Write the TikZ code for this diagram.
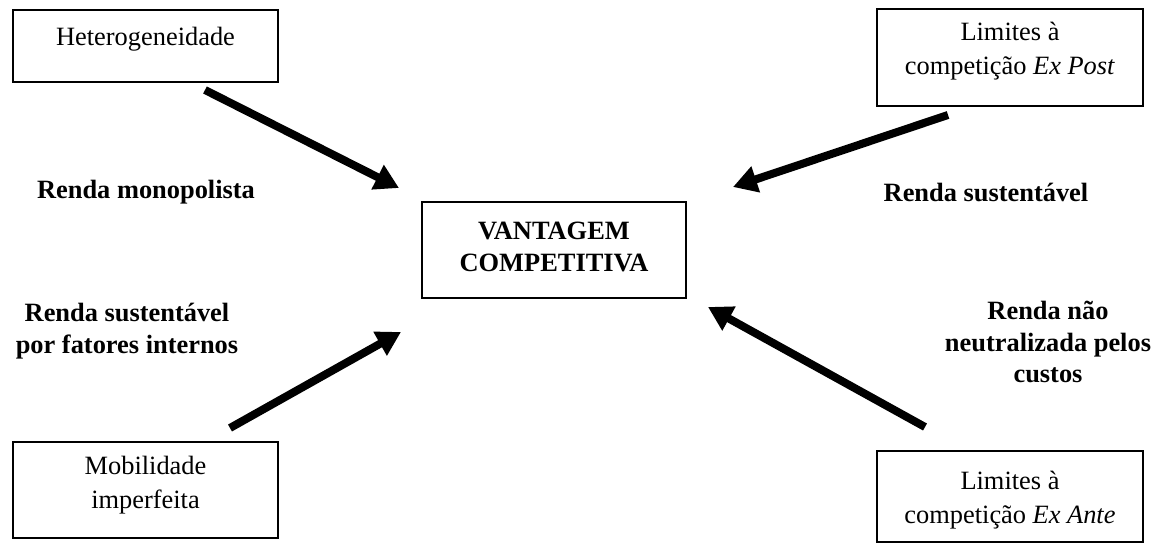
\documentclass[tikz,border=0pt]{standalone}
\usepackage{fontspec}
\setmainfont{Liberation Serif}
\usetikzlibrary{arrows.meta}
\begin{document}
\begin{tikzpicture}[x=0.5pt,y=-0.5pt,
  frame/.style={draw=black,line width=1pt,rectangle,inner sep=0pt},
  txt/.style={align=center,inner sep=0pt,font=\fontsize{13.2pt}{17pt}\selectfont},
  btxt/.style={txt,font=\fontsize{13.2pt}{15.7pt}\selectfont\bfseries},
  bigarrow/.style={line width=4pt,-{Triangle[length=12pt,width=13pt]}}]
\useasboundingbox (0,0) rectangle (1157,544);

% frames
\node[frame,minimum width=132.5pt,minimum height=36pt] (het) at (145.5,46) {};
\node[frame,minimum width=133pt,minimum height=48.5pt] (post) at (1010,57.5) {};
\node[frame,minimum width=132pt,minimum height=48pt] (vant) at (554,250) {};
\node[frame,minimum width=132.5pt,minimum height=48pt] (mob) at (145.5,490) {};
\node[frame,minimum width=133pt,minimum height=45.5pt] (ante) at (1010,496.5) {};

% frame texts
\node[txt] (hett) at (145.5,39) {Heterogeneidade};
\node[txt] (postt) at (1010,51) {Limites à\\competição \textit{Ex Post}};
\node[txt,font=\fontsize{13.2pt}{16pt}\selectfont\bfseries] (vantt) at (554,247) {VANTAGEM\\COMPETITIVA};
\node[txt] (mobt) at (145.5,485) {Mobilidade\\imperfeita};
\node[txt] (antet) at (1010,500) {Limites à\\competição \textit{Ex Ante}};

% rent labels
\node[btxt] (l1) at (146,192) {Renda monopolista};
\node[btxt] (l2) at (986,192) {Renda sustentável};
\node[btxt] (l3) at (127,331) {Renda sustentável\\por fatores internos};
\node[btxt] (l4) at (1048,342) {Renda não\\neutralizada pelos\\custos};

% arrow ends
\coordinate (a1s) at (205,90);  \coordinate (a1e) at (399,188);
\coordinate (a2s) at (948,115); \coordinate (a2e) at (733,187);
\coordinate (a3s) at (230,428); \coordinate (a3e) at (401,332);
\coordinate (a4s) at (925,427); \coordinate (a4e) at (708,307);

\draw[bigarrow] (a1s) -- (a1e);
\draw[bigarrow] (a2s) -- (a2e);
\draw[bigarrow] (a3s) -- (a3e);
\draw[bigarrow] (a4s) -- (a4e);
\end{tikzpicture}
\end{document}
